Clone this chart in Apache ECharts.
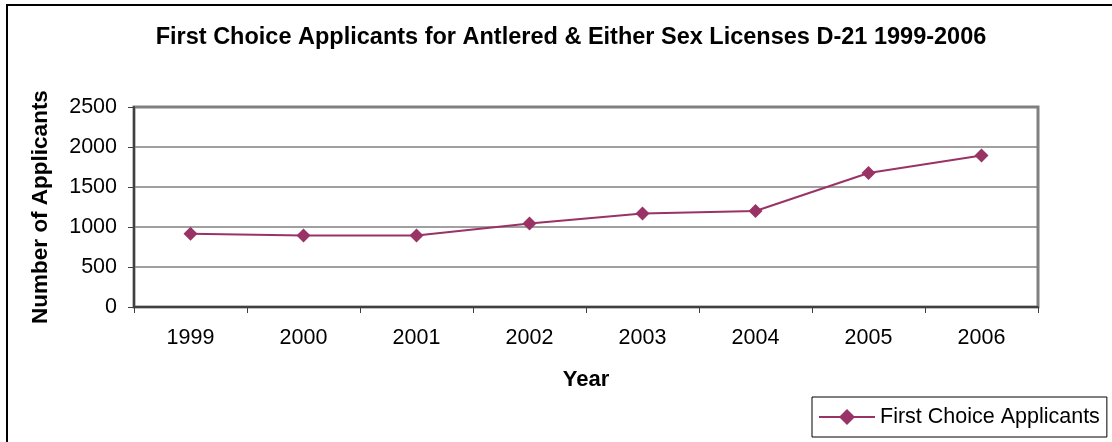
<!DOCTYPE html>
<html>
<head>
<meta charset="utf-8">
<script src="https://cdn.jsdelivr.net/npm/echarts@6/dist/echarts.min.js"></script>
<style>
html,body{margin:0;padding:0;background:#fff;}
#c{width:1112px;height:442px;}
</style>
</head>
<body>
<div id="c"></div>
<script>
const years = ['1999','2000','2001','2002','2003','2004','2005','2006'];
const applicants = [915, 895, 895, 1045, 1170, 1200, 1675, 1895];
const yTicks = {min: 0, max: 2500, interval: 500};

const chart = echarts.init(document.getElementById('c'), null, {renderer: 'canvas'});
const font = 'Arial, "Liberation Sans", sans-serif';
chart.setOption({
  animation: false,
  backgroundColor: '#fff',
  title: {
    text: 'First Choice Applicants for Antlered & Either Sex Licenses D-21 1999-2006',
    left: 566, top: 21, textAlign: 'center',
    textStyle: {fontFamily: font, fontSize: 23.5, fontWeight: 'bold', color: '#000'}
  },
  graphic: [{
    type: 'rect', shape: {x: 7, y: 5, width: 1300, height: 600},
    style: {fill: 'none', stroke: '#000', lineWidth: 2}, silent: true, z: 100
  }],
  grid: {
    left: 134, right: 74, top: 107, bottom: 135,
    show: true, borderColor: '#808080', borderWidth: 3, backgroundColor: '#fff'
  },
  legend: {
    left: 812, top: 397,
    padding: [9, 7, 9, 6],
    borderColor: '#000', borderWidth: 1,
    itemWidth: 56, itemHeight: 20, itemGap: 6,
    textStyle: {fontFamily: font, fontSize: 21.5, color: '#000'},
    data: ['First Choice Applicants']
  },
  xAxis: {
    type: 'category', data: years, boundaryGap: true,
    name: 'Year', nameLocation: 'middle', nameGap: 62,
    nameTextStyle: {fontFamily: font, fontSize: 22, fontWeight: 'bold', color: '#000'},
    axisLine: {show: true, lineStyle: {color: '#404040', width: 2}},
    axisTick: {show: true, alignWithLabel: false, length: 6, lineStyle: {color: '#404040', width: 1}},
    axisLabel: {fontFamily: font, fontSize: 21.5, color: '#000', margin: 20},
    splitLine: {show: false}
  },
  yAxis: {
    type: 'value', min: yTicks.min, max: yTicks.max, interval: yTicks.interval,
    name: 'Number of Applicants', nameLocation: 'middle', nameGap: 82, nameRotate: 90,
    nameTextStyle: {fontFamily: font, fontSize: 22.5, fontWeight: 'bold', color: '#000'},
    axisLine: {show: true, lineStyle: {color: '#404040', width: 2}},
    axisTick: {show: true, length: 6, lineStyle: {color: '#404040', width: 1}},
    axisLabel: {fontFamily: font, fontSize: 21.5, color: '#000', margin: 17, formatter: v => String(v)},
    splitLine: {show: true, lineStyle: {color: '#808080', width: 1.5}}
  },
  series: [{
    name: 'First Choice Applicants', type: 'line', data: applicants,
    symbol: 'diamond', symbolSize: 14, showSymbol: true,
    itemStyle: {color: '#993366'},
    lineStyle: {color: '#993366', width: 2}
  }]
});
</script>
</body>
</html>
